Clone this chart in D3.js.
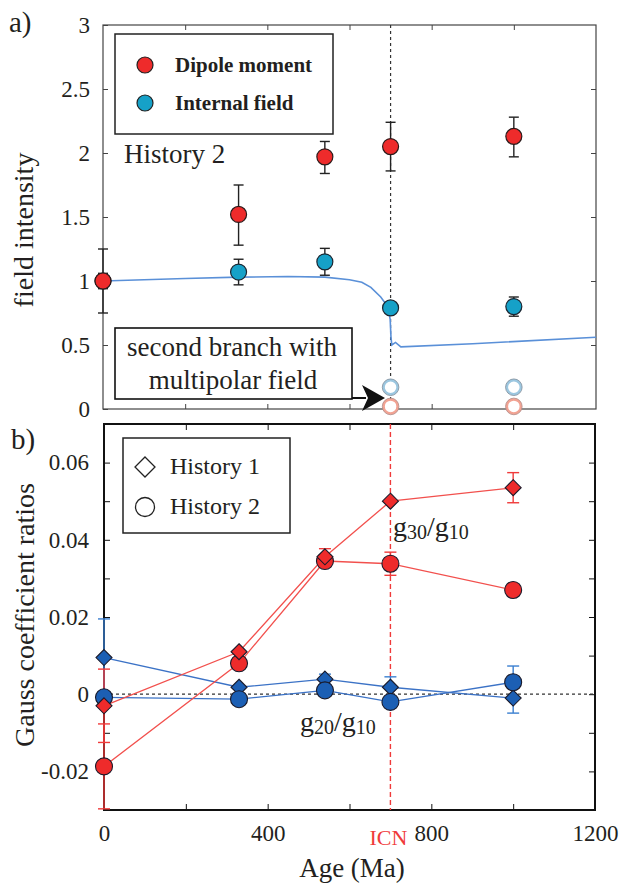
<!DOCTYPE html>
<html>
<head>
<meta charset="utf-8">
<script src="https://cdn.jsdelivr.net/npm/d3@7"></script>
<style>
  html, body { margin: 0; padding: 0; background: #fff; }
  svg { display: block; }
</style>
</head>
<body>
<svg id="chart" width="622" height="886"></svg>
<script>
// ---- panel a: field intensity through time (History 2) ----
const ages = [0, 330, 540, 700, 1000];
const dipole = [1.00, 1.52, 1.97, 2.05, 2.13];
const dipoleErrHi = [0.25, 0.23, 0.12, 0.19, 0.15];
const dipoleErrLo = [0.25, 0.24, 0.13, 0.19, 0.16];
const internal = [1.00, 1.07, 1.15, 0.79, 0.80];
const internalErr = [0.06, 0.10, 0.105, 0.03, 0.075];

// second (multipolar) branch
const multiAges = [700, 1000];
const multiInternal = [0.17, 0.17];
const multiInternalErr = [0.0, 0.03];
const multiDipole = [0.02, 0.02];

// model curve of internal field intensity
const curveAge = [0, 100, 200, 330, 450, 540, 600, 630, 652, 676, 693, 699, 701, 703, 712, 725, 900, 1200];
const curveField = [1.00, 1.01, 1.02, 1.03, 1.035, 1.03, 1.01, 0.99, 0.95, 0.875, 0.80, 0.70, 0.56, 0.50, 0.52, 0.485, 0.51, 0.56];

const yTicksA = [0, 0.5, 1, 1.5, 2, 2.5, 3];
const xTicks = [0, 400, 800, 1200];
const xMinorTicks = [200, 400, 600, 800, 1000];

// ---- panel b: Gauss coefficient ratios ----
const g30H1 = [-0.003, 0.011, 0.0356, 0.050, 0.0535];
const g30H1Err = [0.0095, 0, 0.0021, 0, 0.0039];
const g30H2 = [-0.0187, 0.008, 0.0345, 0.0338, 0.027];
const g30H2Err = [0.011, 0, 0, 0.003, 0];
const g20H1 = [0.0095, 0.0018, 0.0039, 0.0018, -0.001];
const g20H1Err = [0.010, 0, 0.0013, 0.0027, 0.0039];
const g20H2 = [-0.0008, -0.0013, 0.001, -0.002, 0.0031];
const g20H2Err = [0, 0, 0, 0, 0.0042];

const yTicksB = [-0.03, -0.02, -0.01, 0, 0.01, 0.02, 0.03, 0.04, 0.05, 0.06, 0.07];
const yLabelsB = [-0.02, 0, 0.02, 0.04, 0.06];
const icnAge = 700;

const RED = "#ee2b2b", CYAN = "#16a1c8", BLUE = "#1c5fb4";
const RED_LINE = "#f2504d", BLUE_LINE = "#3b72c6", CURVE = "#5a90d8";
const SERIF = '"Liberation Serif", Tinos, "Times New Roman", Times, serif';
const INK = "#231f20";

const svg = d3.select("#chart");

function styleLabels(g) {
  g.attr("font-family", SERIF);
  g.selectAll("text").attr("font-size", 23).attr("font-family", SERIF).attr("fill", INK);
}
function txt(parent, x, y, size, s) {
  return parent.append("text").attr("x", x).attr("y", y).attr("font-size", size)
    .attr("font-family", SERIF).attr("fill", INK).text(s);
}

// ================= panel a =================
const xa = d3.scaleLinear().domain([0, 1200]).range([103, 596]);
const ya = d3.scaleLinear().domain([0, 3]).range([409, 25]);

const ga = svg.append("g");

// axes (inward ticks)
ga.append("g").attr("transform", `translate(${xa(0)},0)`)
  .call(d3.axisLeft(ya).tickValues(yTicksA).tickSize(-5).tickPadding(13)
    .tickFormat(d => String(d)))
  .call(g => { g.select(".domain").remove(); g.selectAll("line").attr("stroke", "#444"); styleLabels(g); });
ga.append("g").attr("transform", `translate(${xa(1200)},0)`)
  .call(d3.axisRight(ya).tickValues(yTicksA.slice(1, -1)).tickSize(-5).tickFormat(""))
  .call(g => { g.select(".domain").remove(); g.selectAll("line").attr("stroke", "#444"); });
ga.append("g").attr("transform", `translate(0,${ya(0)})`)
  .call(d3.axisBottom(xa).tickValues(xMinorTicks).tickSize(-5).tickFormat(""))
  .call(g => { g.select(".domain").remove(); g.selectAll("line").attr("stroke", "#444"); });
ga.append("g").attr("transform", `translate(0,${ya(3)})`)
  .call(d3.axisTop(xa).tickValues(xMinorTicks).tickSize(-5).tickFormat(""))
  .call(g => { g.select(".domain").remove(); g.selectAll("line").attr("stroke", "#444"); });

ga.append("rect").attr("x", xa(0)).attr("y", ya(3))
  .attr("width", xa(1200) - xa(0)).attr("height", ya(0) - ya(3))
  .attr("fill", "none").attr("stroke", "#444").attr("stroke-width", 1.2);

// inner-core nucleation marker
ga.append("line").attr("x1", xa(icnAge)).attr("x2", xa(icnAge))
  .attr("y1", ya(3)).attr("y2", ya(0))
  .attr("stroke", "#333").attr("stroke-width", 1.2).attr("stroke-dasharray", "3,3");

// model curve
ga.append("path")
  .datum(curveAge.map((a, i) => [a, curveField[i]]))
  .attr("fill", "none").attr("stroke", CURVE).attr("stroke-width", 1.6)
  .attr("d", d3.line().x(d => xa(d[0])).y(d => ya(d[1])));

function errBar(g, x, y, lo, hi, color, cap, width) {
  g.append("line").attr("x1", x).attr("x2", x).attr("y1", y(lo)).attr("y2", y(hi))
    .attr("stroke", color).attr("stroke-width", width);
  [lo, hi].forEach(v => g.append("line").attr("x1", x - cap).attr("x2", x + cap)
    .attr("y1", y(v)).attr("y2", y(v)).attr("stroke", color).attr("stroke-width", width));
}

// error bars
ages.forEach((a, i) => {
  if (internalErr[i] > 0) errBar(ga, xa(a), ya, internal[i] - internalErr[i], internal[i] + internalErr[i], "#222", 5, 1.4);
  errBar(ga, xa(a), ya, dipole[i] - dipoleErrLo[i], dipole[i] + dipoleErrHi[i], "#222", 5, 1.4);
});
multiAges.forEach((a, i) => {
  if (multiInternalErr[i] > 0) errBar(ga, xa(a), ya, multiInternal[i] - multiInternalErr[i], multiInternal[i] + multiInternalErr[i], "#8aa9c0", 5, 1.2);
});

// markers
ga.selectAll("circle.internal").data(ages).enter().append("circle")
  .attr("cx", d => xa(d)).attr("cy", (d, i) => ya(internal[i])).attr("r", 8)
  .attr("fill", CYAN).attr("stroke", "#1b2530").attr("stroke-width", 1.2);
ga.selectAll("circle.dipole").data(ages).enter().append("circle")
  .attr("cx", d => xa(d)).attr("cy", (d, i) => ya(dipole[i])).attr("r", 8)
  .attr("fill", RED).attr("stroke", "#2a1a1a").attr("stroke-width", 1.2);

// multipolar branch (hollow)
ga.selectAll("circle.mi").data(multiAges).enter().append("circle")
  .attr("cx", d => xa(d)).attr("cy", (d, i) => ya(multiInternal[i])).attr("r", 7)
  .attr("fill", "#fff").attr("stroke", "#9cc7e0").attr("stroke-width", 2.5);
ga.selectAll("circle.mi2").data(multiAges).enter().append("circle")
  .attr("cx", d => xa(d)).attr("cy", (d, i) => ya(multiInternal[i])).attr("r", 8.3)
  .attr("fill", "none").attr("stroke", "#7d8c99").attr("stroke-width", 0.8);
ga.selectAll("circle.md").data(multiAges).enter().append("circle")
  .attr("cx", d => xa(d)).attr("cy", (d, i) => ya(multiDipole[i])).attr("r", 7)
  .attr("fill", "#fff").attr("stroke", "#f2a393").attr("stroke-width", 2.5);
ga.selectAll("circle.md2").data(multiAges).enter().append("circle")
  .attr("cx", d => xa(d)).attr("cy", (d, i) => ya(multiDipole[i])).attr("r", 8.3)
  .attr("fill", "none").attr("stroke", "#b08a86").attr("stroke-width", 0.8);

// legend a
ga.append("rect").attr("x", 115).attr("y", 34).attr("width", 218).attr("height", 100)
  .attr("fill", "#fff").attr("stroke", "#222").attr("stroke-width", 1.5);
[[RED, "Dipole moment", 65], [CYAN, "Internal field", 103]].forEach(([c, t, y]) => {
  ga.append("circle").attr("cx", 145).attr("cy", y).attr("r", 8)
    .attr("fill", c).attr("stroke", "#222").attr("stroke-width", 1.2);
  txt(ga, 175, y + 7, 21, t).attr("font-weight", "bold");
});

txt(ga, 124, 163, 27, "History 2");

// annotation box and arrow
ga.append("rect").attr("x", 115).attr("y", 328).attr("width", 237).attr("height", 71)
  .attr("fill", "#fff").attr("stroke", "#111").attr("stroke-width", 1.6);
txt(ga, 232, 356, 27, "second branch with").attr("text-anchor", "middle");
txt(ga, 233, 389, 27, "multipolar field").attr("text-anchor", "middle");
ga.append("line").attr("x1", 352).attr("x2", 366).attr("y1", 398).attr("y2", 398)
  .attr("stroke", "#111").attr("stroke-width", 2);
ga.append("path").attr("d", "M362,385 L385,398 L362,411 L368,398 Z").attr("fill", "#111");

// labels
txt(svg, 9, 32, 29, "a)");
txt(svg, 0, 0, 28, "field intensity").attr("transform", "translate(33,230) rotate(-90)")
  .attr("text-anchor", "middle");

// ================= panel b =================
const xb = d3.scaleLinear().domain([0, 1200]).range([104, 595]);
const yb = d3.scaleLinear().domain([-0.03, 0.07]).range([810, 424]);
const gb = svg.append("g");

gb.append("g").attr("transform", `translate(${xb(0)},0)`)
  .call(d3.axisLeft(yb).tickValues(yTicksB.slice(1, -1)).tickSize(-6).tickPadding(15)
    .tickFormat(d => {
      const hit = yLabelsB.find(v => Math.abs(v - d) < 1e-9);
      return hit === undefined ? "" : (hit === 0 ? "0" : (hit < 0 ? "-" : "") + Math.abs(hit).toFixed(2));
    }))
  .call(g => { g.select(".domain").remove(); g.selectAll("line").attr("stroke", "#111"); styleLabels(g); });
gb.append("g").attr("transform", `translate(${xb(1200)},0)`)
  .call(d3.axisRight(yb).tickValues(yTicksB.slice(1, -1)).tickSize(-6).tickFormat(""))
  .call(g => { g.select(".domain").remove(); g.selectAll("line").attr("stroke", "#111"); });
gb.append("g").attr("transform", `translate(0,${yb(-0.03)})`)
  .call(d3.axisBottom(xb).tickValues(xMinorTicks).tickSize(-6).tickFormat(""))
  .call(g => { g.select(".domain").remove(); g.selectAll("line").attr("stroke", "#111"); });
gb.append("g").attr("transform", `translate(0,${yb(0.07)})`)
  .call(d3.axisTop(xb).tickValues(xMinorTicks).tickSize(-6).tickFormat(""))
  .call(g => { g.select(".domain").remove(); g.selectAll("line").attr("stroke", "#111"); });
// x tick labels
gb.append("g").attr("transform", `translate(0,${yb(-0.03)})`)
  .call(d3.axisBottom(xb).tickValues(xTicks).tickSize(0).tickPadding(15).tickFormat(d3.format("d")))
  .call(g => { g.select(".domain").remove(); styleLabels(g); });

gb.append("rect").attr("x", xb(0)).attr("y", yb(0.07))
  .attr("width", xb(1200) - xb(0)).attr("height", yb(-0.03) - yb(0.07))
  .attr("fill", "none").attr("stroke", "#111").attr("stroke-width", 2);

// zero line and ICN marker
gb.append("line").attr("x1", xb(0)).attr("x2", xb(1200)).attr("y1", yb(0)).attr("y2", yb(0))
  .attr("stroke", "#333").attr("stroke-width", 1.2).attr("stroke-dasharray", "3,3");
gb.append("line").attr("x1", xb(icnAge)).attr("x2", xb(icnAge))
  .attr("y1", yb(0.07)).attr("y2", yb(-0.03))
  .attr("stroke", "#f03a3a").attr("stroke-width", 1.4).attr("stroke-dasharray", "5,3");

const lineB = d3.line().x(d => xb(d[0])).y(d => yb(d[1]));
const series = [
  { v: g20H1, e: g20H1Err, lc: BLUE_LINE, fc: BLUE, shape: "diamond", ec: "#3a7fd0" },
  { v: g20H2, e: g20H2Err, lc: BLUE_LINE, fc: BLUE, shape: "circle", ec: "#3a7fd0" },
  { v: g30H2, e: g30H2Err, lc: RED_LINE, fc: RED, shape: "circle", ec: "#f03a3a" },
  { v: g30H1, e: g30H1Err, lc: RED_LINE, fc: RED, shape: "diamond", ec: "#f03a3a" }
];
series.forEach(s => {
  gb.append("path").datum(ages.map((a, i) => [a, s.v[i]]))
    .attr("fill", "none").attr("stroke", s.lc).attr("stroke-width", 1.3).attr("d", lineB);
});
series.forEach(s => {
  ages.forEach((a, i) => {
    if (s.e[i] > 0) errBar(gb, xb(a), yb, s.v[i] - s.e[i], s.v[i] + s.e[i], s.ec, 6, 1.4);
  });
});
series.forEach(s => {
  const sel = gb.selectAll(null).data(ages).enter();
  if (s.shape === "circle") {
    sel.append("circle").attr("cx", d => xb(d)).attr("cy", (d, i) => yb(s.v[i])).attr("r", 8.5)
      .attr("fill", s.fc).attr("stroke", "#1a1a2a").attr("stroke-width", 1.1);
  } else {
    sel.append("path")
      .attr("transform", (d, i) => `translate(${xb(d)},${yb(s.v[i])})`)
      .attr("d", "M0,-8 L8,0 L0,8 L-8,0 Z")
      .attr("fill", s.fc).attr("stroke", "#1a1a2a").attr("stroke-width", 1.1);
  }
});

// legend b
gb.append("rect").attr("x", 123).attr("y", 438).attr("width", 167).attr("height", 95)
  .attr("fill", "#fff").attr("stroke", "#222").attr("stroke-width", 1.5);
gb.append("path").attr("transform", "translate(145,467)").attr("d", "M0,-10 L10,0 L0,10 L-10,0 Z")
  .attr("fill", "#fff").attr("stroke", "#222").attr("stroke-width", 1.3);
txt(gb, 170, 474, 24, "History 1");
gb.append("circle").attr("cx", 145).attr("cy", 507).attr("r", 9.5)
  .attr("fill", "#fff").attr("stroke", "#222").attr("stroke-width", 1.3);
txt(gb, 170, 514, 24, "History 2");

// coefficient labels
function ratioLabel(x, y, a, b) {
  const t = txt(gb, x, y, 28, null);
  t.append("tspan").text("g");
  t.append("tspan").attr("font-size", 20).attr("dy", 3).text(a);
  t.append("tspan").attr("dy", -3).text("/g");
  t.append("tspan").attr("font-size", 20).attr("dy", 3).text(b);
}
ratioLabel(393, 536, "30", "10");
ratioLabel(300, 731, "20", "10");

txt(gb, xb(icnAge) - 2, 845, 22, "ICN").attr("text-anchor", "middle").attr("fill", "#f03a3a");
txt(svg, 352, 877, 27, "Age (Ma)").attr("text-anchor", "middle");
txt(svg, 11, 449, 29, "b)");
txt(svg, 0, 0, 28, "Gauss coefficient ratios").attr("transform", "translate(34,615) rotate(-90)")
  .attr("text-anchor", "middle");
</script>
</body>
</html>
